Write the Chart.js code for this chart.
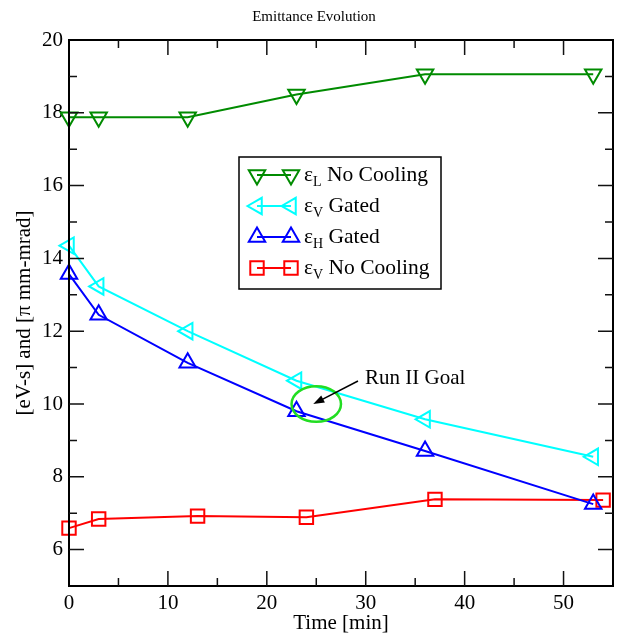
<!DOCTYPE html>
<html><head><meta charset="utf-8">
<script src="https://cdn.jsdelivr.net/npm/chart.js@4/dist/chart.umd.min.js"></script>
<style>html,body{margin:0;padding:0;background:#fff}#wrap{width:619px;height:635px;position:relative}</style>
</head><body><div id="wrap"><canvas id="c" width="619" height="635"></canvas></div>
<script>
// ---- data ----
const timeMain = [0, 3, 12, 23, 36, 53];
const timeRed = [0, 3, 13, 24, 37, 54];
const epsLNoCooling = [17.88, 17.88, 17.88, 18.5, 19.06, 19.06];
const epsVGated = [14.35, 13.23, 12.0, 10.64, 9.58, 8.55];
const epsHGated = [13.57, 12.45, 11.13, 9.8, 8.71, 7.25];
const epsVNoCooling = [6.59, 6.84, 6.92, 6.89, 7.38, 7.36];
const xMajorTicks = [0, 10, 20, 30, 40, 50];
const yMajorTicks = [6, 8, 10, 12, 14, 16, 18, 20];
const seriesNames = [['L', ' No Cooling'], ['V', ' Gated'], ['H', ' Gated'], ['V', ' No Cooling']];
const goalPoint = [25, 10];
const goalRadius = [2.5, 0.49];
const goalLabel = 'Run II Goal';
const chartTitle = 'Emittance Evolution';
const xTitle = 'Time [min]';
const yTitle = '[eV-s] and [\u03C0 mm-mrad]';

const FONT = '"Liberation Serif", "DejaVu Serif", serif';
const pts = (xs, ys) => xs.map((x, i) => ({x, y: ys[i]}));

const styles = [
  {color: '#008b00', pointStyle: 'triangle', rotation: 180, radius: 9.5},
  {color: '#00ffff', pointStyle: 'triangle', rotation: 270, radius: 9.5},
  {color: '#0000ff', pointStyle: 'triangle', rotation: 0, radius: 9.5},
  {color: '#ff0000', pointStyle: 'rect', rotation: 0, radius: 9.5}
];
const seriesData = [pts(timeMain, epsLNoCooling), pts(timeMain, epsVGated), pts(timeMain, epsHGated), pts(timeRed, epsVNoCooling)];

const datasets = seriesData.map((d, i) => ({
  label: 'eps' + seriesNames[i].join(''),
  data: d,
  borderColor: styles[i].color,
  borderWidth: 2,
  pointStyle: styles[i].pointStyle,
  rotation: styles[i].rotation,
  pointRadius: styles[i].radius,
  pointBorderWidth: 2,
  pointBorderColor: styles[i].color,
  pointBackgroundColor: 'rgba(0,0,0,0)',
  fill: false,
  tension: 0,
  clip: false
}));

const decor = {
  id: 'decor',
  afterDraw(chart) {
    const ctx = chart.ctx, xs = chart.scales.x, ys = chart.scales.y, a = chart.chartArea;
    ctx.save();
    // frame
    ctx.strokeStyle = '#000'; ctx.lineWidth = 2;
    ctx.strokeRect(a.left, a.top, a.right - a.left, a.bottom - a.top);
    ctx.lineWidth = 1.5; ctx.strokeStyle = '#111';
    // x ticks
    for (let v = xs.min; v < xs.max; v += 5) {
      if (v === xs.min) continue;
      const L = xMajorTicks.includes(v) ? 15 : 8;
      const px = xs.getPixelForValue(v);
      ctx.beginPath();
      ctx.moveTo(px, a.bottom); ctx.lineTo(px, a.bottom - L);
      ctx.moveTo(px, a.top); ctx.lineTo(px, a.top + L);
      ctx.stroke();
    }
    for (let v = ys.min + 1; v < ys.max; v += 1) {
      const L = yMajorTicks.includes(v) ? 15 : 8;
      const py = ys.getPixelForValue(v);
      ctx.beginPath();
      ctx.moveTo(a.left, py); ctx.lineTo(a.left + L, py);
      ctx.moveTo(a.right, py); ctx.lineTo(a.right - L, py);
      ctx.stroke();
    }
    // title
    ctx.fillStyle = '#000';
    ctx.textAlign = 'center'; ctx.textBaseline = 'middle';
    ctx.font = '15px ' + FONT;
    ctx.fillText(chartTitle, 314, 17);
    ctx.font = '21px ' + FONT;
    ctx.fillText(xTitle, (a.left + a.right) / 2, 623);
    ctx.save();
    ctx.translate(24, (a.top + a.bottom) / 2);
    ctx.rotate(-Math.PI / 2);
    ctx.fillText(yTitle, 0, 0);
    ctx.restore();
    // legend
    ctx.lineWidth = 1.5; ctx.strokeStyle = '#000';
    ctx.strokeRect(239, 157, 202, 132);
    const rows = [175, 206, 237, 268];
    rows.forEach((ry, i) => {
      const st = styles[i];
      ctx.strokeStyle = st.color; ctx.lineWidth = 2;
      ctx.beginPath(); ctx.moveTo(257, ry); ctx.lineTo(291, ry); ctx.stroke();
      ctx.fillStyle = 'rgba(0,0,0,0)';
      [257, 291].forEach(px => Chart.helpers.drawPoint(ctx, {pointStyle: st.pointStyle, radius: st.radius, rotation: st.rotation, borderWidth: 2}, px, ry));
      ctx.fillStyle = '#000'; ctx.textAlign = 'left'; ctx.textBaseline = 'middle';
      ctx.font = '21.5px ' + FONT;
      ctx.fillText('\u03B5', 304, ry);
      let w = ctx.measureText('\u03B5').width;
      ctx.font = '14px ' + FONT;
      ctx.fillText(seriesNames[i][0], 304 + w, ry + 7);
      const w2 = ctx.measureText(seriesNames[i][0]).width;
      ctx.font = '21.5px ' + FONT;
      ctx.fillText(seriesNames[i][1], 304 + w + w2, ry);
    });
    // goal ellipse
    const cx = xs.getPixelForValue(goalPoint[0]), cy = ys.getPixelForValue(goalPoint[1]);
    const rx = xs.getPixelForValue(goalPoint[0] + goalRadius[0]) - cx;
    const ryy = cy - ys.getPixelForValue(goalPoint[1] + goalRadius[1]);
    ctx.strokeStyle = '#22dd22'; ctx.lineWidth = 2.5;
    ctx.beginPath(); ctx.ellipse(cx, cy, rx, ryy, 0, 0, Math.PI * 2); ctx.stroke();
    // arrow
    const sx = 358, sy = 381, tx = cx - 3, ty = cy;
    ctx.strokeStyle = '#000'; ctx.fillStyle = '#000'; ctx.lineWidth = 1.5;
    const ang = Math.atan2(ty - sy, tx - sx);
    ctx.beginPath(); ctx.moveTo(sx, sy); ctx.lineTo(tx - 8 * Math.cos(ang), ty - 8 * Math.sin(ang)); ctx.stroke();
    ctx.beginPath();
    ctx.moveTo(tx, ty);
    ctx.lineTo(tx - 11 * Math.cos(ang) + 4 * Math.sin(ang), ty - 11 * Math.sin(ang) - 4 * Math.cos(ang));
    ctx.lineTo(tx - 11 * Math.cos(ang) - 4 * Math.sin(ang), ty - 11 * Math.sin(ang) + 4 * Math.cos(ang));
    ctx.closePath(); ctx.fill();
    ctx.font = '21px ' + FONT; ctx.textAlign = 'left'; ctx.textBaseline = 'middle';
    ctx.fillText(goalLabel, 365, 378);
    ctx.restore();
  }
};

new Chart(document.getElementById('c'), {
  type: 'line',
  data: {datasets},
  options: {
    responsive: false, animation: false, devicePixelRatio: 1,
    layout: {autoPadding: false, padding: {top: 40, right: 6, left: 0, bottom: 0}},
    plugins: {legend: {display: false}, title: {display: false}, tooltip: {enabled: false}},
    scales: {
      x: {
        type: 'linear', min: 0, max: 55,
        grid: {display: false, drawTicks: false}, border: {display: false},
        ticks: {stepSize: 5, autoSkip: false, maxRotation: 0, padding: 5, color: '#000',
          font: {family: FONT, size: 21},
          callback: v => xMajorTicks.includes(v) ? String(v) : ''},
        afterFit: s => { s.height = 49; s.paddingLeft = 0; s.paddingRight = 0; }
      },
      y: {
        type: 'linear', min: 5, max: 20,
        grid: {display: false, drawTicks: false}, border: {display: false},
        ticks: {stepSize: 1, autoSkip: false, padding: 6, color: '#000',
          font: {family: FONT, size: 21},
          callback: v => yMajorTicks.includes(v) ? String(v) : ''},
        afterFit: s => { s.width = 69; s.paddingTop = 0; s.paddingBottom = 0; }
      }
    }
  },
  plugins: [decor]
});
</script></body></html>
